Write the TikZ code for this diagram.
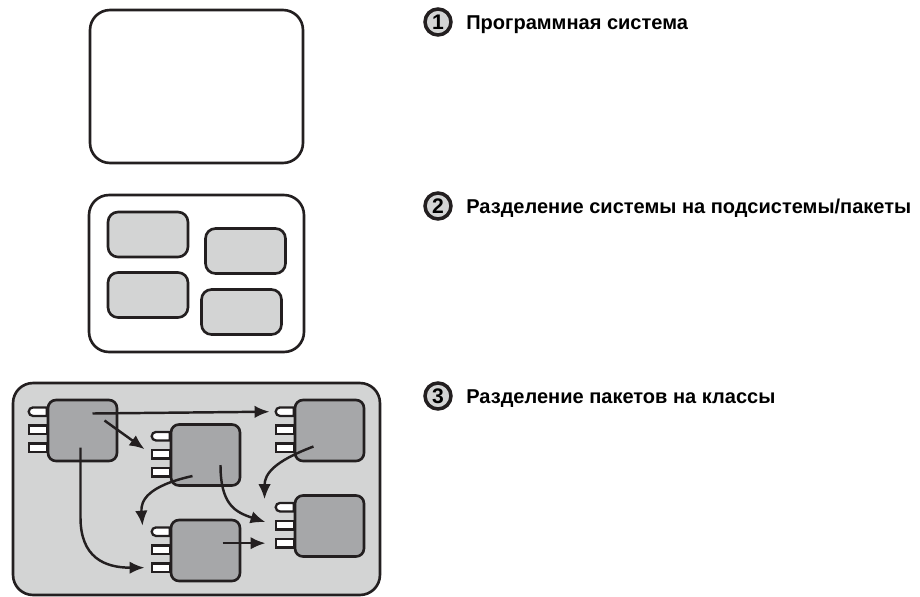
\documentclass[tikz,border=0pt]{standalone}
\usepackage{fontspec}
\setmainfont{Liberation Sans}
\usetikzlibrary{arrows.meta,shapes.misc,calc}
\definecolor{ink}{HTML}{231F20}
\definecolor{lite}{HTML}{D3D4D4}
\definecolor{dark}{HTML}{A6A7A9}
\begin{document}
\begin{tikzpicture}[x=0.02cm,y=-0.02cm,line width=1.5pt,
  frame/.style={draw=ink,rounded corners=0.4cm,inner sep=0pt},
  pkg/.style={draw=ink,fill=lite,rounded corners=0.2cm,minimum width=1.6cm,minimum height=0.9cm,inner sep=0pt},
  cls/.style={draw=ink,fill=dark,rounded corners=0.16cm,minimum width=1.38cm,minimum height=1.22cm,inner sep=0pt},
  tab/.style={draw=ink,fill=white,line width=1.3pt,minimum width=0.36cm,minimum height=0.17cm,inner sep=0pt},
  arr/.style={draw=ink,line width=1.4pt,-{Latex[length=3mm,width=2.5mm]}},
  num/.style={circle,draw=ink,fill=lite,line width=2pt,minimum size=0.52cm,inner sep=0pt,font=\bfseries\fontsize{12}{14}\selectfont},
  lbl/.style={anchor=base west,inner sep=0pt,font=\bfseries\fontsize{11.4}{14}\selectfont}]
\useasboundingbox (0,0) rectangle (920,596);
\node[frame,fill=white,minimum width=4.26cm,minimum height=3.06cm] (sys) at (196.5,86.5) {};
\node[frame,fill=white,minimum width=4.3cm,minimum height=3.14cm] (subsys) at (196.5,273.5) {};
\node[pkg] (pa) at (148,234.5) {};
\node[pkg] (pb) at (245.5,251) {};
\node[pkg] (pc) at (148,295) {};
\node[pkg] (pd) at (241.5,312) {};
\node[frame,fill=lite,minimum width=7.34cm,minimum height=4.24cm] (pkgs) at (196.5,489) {};
\node[cls] (k1) at (82.5,430.5) {};
\node[cls] (k2) at (205.5,455) {};
\node[cls] (k3) at (329.5,430.5) {};
\node[cls] (k4) at (205.5,550.5) {};
\node[cls] (k5) at (329.5,526) {};
\foreach \k in {1,...,5}{
  \node[tab,rounded rectangle,rounded rectangle right arc=none] (k\k p1) at ([shift={(-9,13)}]k\k.north west) {};
  \node[tab] (k\k p2) at ([shift={(-9,31)}]k\k.north west) {};
  \node[tab] (k\k p3) at ([shift={(-9,49)}]k\k.north west) {};
}
\draw[arr] ([shift={(10,-17)}]k1.center) -- ([shift={(-5,0)}]k3p1.west);
\draw[arr] ([shift={(22,-10)}]k1.center) -- ([shift={(-6,-5)}]k2p2.west);
\draw[arr] ([shift={(-2,17)}]k1.center) -- ++(0,70) .. controls +(0,40) and +(-40,0) .. ([shift={(-6,0)}]k4p3.west);
\draw[arr] ([shift={(-13,21)}]k2.center) .. controls +(-45,10) and +(-2,-25) .. ([shift={(-8,-6)}]k4p1.west);
\draw[arr] ([shift={(15,10)}]k2.center) .. controls +(0,40) and +(-30,-10) .. ([shift={(-9,-3)}]k5p2.west);
\draw[arr] ([shift={(-16,16)}]k3.center) .. controls +(-40,15) and +(0,-25) .. ([shift={(-10,-8)}]k5p1.west);
\draw[arr] ($(k4.center |- k5p3.west)+(17,0)$) -- ([shift={(-9,0)}]k5p3.west);
\node[num] (n1) at (438,22) {1};
\node[lbl] (t1) at (465,29) {Программная система};
\node[num] (n2) at (438,206) {2};
\node[lbl] (t2) at (465,213) {Разделение системы на подсистемы/пакеты};
\node[num] (n3) at (438,396) {3};
\node[lbl] (t3) at (465,403) {Разделение пакетов на классы};
\end{tikzpicture}
\end{document}
